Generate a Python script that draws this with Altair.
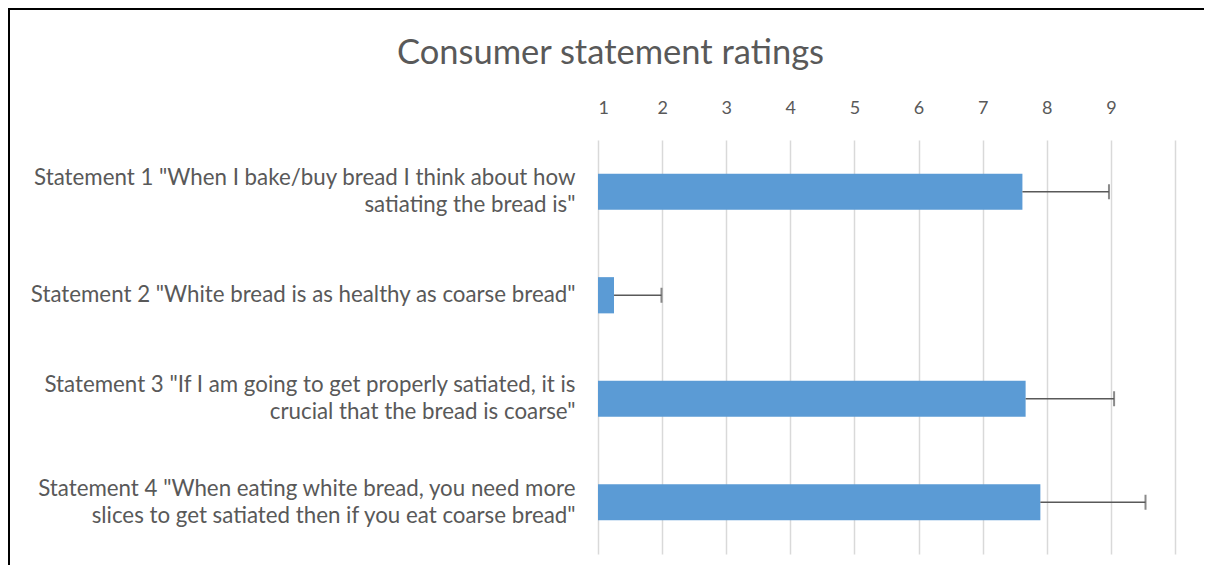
import altair as alt
import pandas as pd

statements = [
    'Statement 1 "When I bake/buy bread I think about how|satiating the bread is"',
    'Statement 2 "White bread is as healthy as coarse bread"',
    'Statement 3 "If I am going to get properly satiated, it is|crucial that the bread is coarse"',
    'Statement 4 "When eating white bread, you need more|slices to get satiated then if you eat coarse bread"',
]
means = [7.62, 1.25, 7.67, 7.90]
err_high = [8.97, 1.99, 9.05, 9.54]
tick_values = [1, 2, 3, 4, 5, 6, 7, 8, 9, 10]

df = pd.DataFrame({"statement": statements, "mean": means, "hi": err_high})

FONT = "Lato"
TXT = "#595959"
W, H = 577, 414
PL, PT, PR, PB = 590, 132, 29, 11

xscale = alt.Scale(domain=[1, 10], nice=False, zero=False)
yscale = alt.Scale(domain=statements, paddingInner=0.65, paddingOuter=0.325)

xaxis = alt.Axis(
    orient="top", values=tick_values, title=None, domain=False, ticks=False, tickSize=0,
    format="d",
    labelExpr="datum.value == 10 ? '' : datum.label",
    labelFont=FONT, labelFontSize=18, labelColor=TXT, labelPadding=23,
    grid=True, gridColor="#D9D9D9", gridWidth=1.5,
)
yaxis = alt.Axis(
    title=None, domain=False, ticks=False, tickSize=0, grid=False,
    labelExpr="split(datum.label, '|')",
    labelFont=FONT, labelFontSize=22.3, labelColor=TXT, labelPadding=23,
    labelLimit=0, labelLineHeight=27, labelAlign="right", labelBaseline="middle",
    labelOffset={"condition": {"test": "indexof(datum.value, '|') >= 0", "value": -13.5}, "value": 0},
)

base = alt.Chart(df)

bars = base.mark_bar(color="#5B9BD5").encode(
    x=alt.X("mean:Q", scale=xscale, axis=xaxis),
    x2=alt.datum(1),
    y=alt.Y("statement:N", scale=yscale, axis=yaxis, sort=None),
)

err = base.mark_rule(color="#595959", strokeWidth=1.5).encode(
    x=alt.X("mean:Q", scale=xscale),
    x2="hi:Q",
    y=alt.Y("statement:N", scale=yscale, sort=None),
)

caps = base.mark_tick(color="#595959", thickness=2, size=15, orient="vertical").encode(
    x=alt.X("hi:Q", scale=xscale),
    y=alt.Y("statement:N", scale=yscale, sort=None),
)

frame = base.mark_rect(fill=None, stroke="black", strokeWidth=2).encode(
    x=alt.value(1 - PL), x2=alt.value(W + PR + 20),
    y=alt.value(1 - PT), y2=alt.value(H + PB + 20),
)

chart = alt.layer(bars, err, caps, frame).properties(
    width=W, height=H,
    padding={"left": PL, "top": PT, "right": PR, "bottom": PB},
    autosize=alt.AutoSizeParams(type="none"),
    title=alt.TitleParams(
        "Consumer statement ratings", font=FONT, fontSize=34.5, fontWeight="normal",
        color=TXT, anchor="middle", frame="group", dx=-276, offset=0, dy=63,
    ),
).configure_view(stroke=None)

chart.save("out.html", embed_options={"renderer": "svg", "actions": False})
